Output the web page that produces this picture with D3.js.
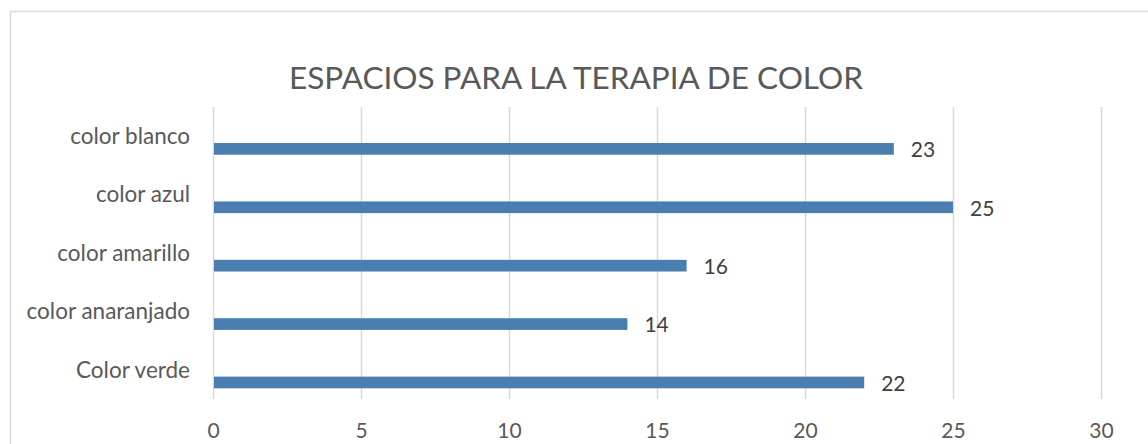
<!DOCTYPE html>
<html>
<head>
    <meta charset="utf-8">
    <script src="https://d3js.org/d3.v7.min.js"></script>
    <style>
        body { margin: 0; background: #fff; }
        svg text { font-family: Lato, "Open Sans", sans-serif; }
    </style>
</head>
<body>
<script>
    // data, top row first
    var categories = ["color blanco", "color azul", "color amarillo", "color anaranjado", "Color verde"];
    var counts = [23, 25, 16, 14, 22];
    var tickValues = [0, 5, 10, 15, 20, 25, 30];
    var chartTitle = "ESPACIOS PARA LA TERAPIA DE COLOR";

    var width = 1148, height = 444;
    var plotLeft = 213, plotRight = 1101, plotTop = 107, plotBottom = 399;

    var data = categories.map(function(c, i) { return {cat: c, val: counts[i]}; });

    var svg = d3.select("body").append("svg")
        .attr("width", width)
        .attr("height", height);

    // chart frame (runs off the right and bottom edges)
    svg.append("rect")
        .attr("x", 10.5)
        .attr("y", 11.5)
        .attr("width", width + 20)
        .attr("height", height + 20)
        .style("fill", "#fff")
        .style("stroke", "#d9d9d9")
        .style("stroke-width", 1.5);

    svg.append("text")
        .attr("x", 576)
        .attr("y", 89)
        .attr("text-anchor", "middle")
        .style("font-size", "31.5px")
        .style("fill", "#595959")
        .text(chartTitle);

    var x = d3.scaleLinear().domain([0, 30]).range([plotLeft, plotRight]);
    var y = d3.scaleBand().domain(categories).range([plotTop, plotBottom]);

    // vertical gridlines
    svg.append("g")
        .selectAll("line")
        .data(tickValues)
        .enter().append("line")
        .attr("x1", function(d) { return Math.round(x(d)) + 0.5; })
        .attr("x2", function(d) { return Math.round(x(d)) + 0.5; })
        .attr("y1", plotTop)
        .attr("y2", plotBottom)
        .style("stroke", "#d9d9d9")
        .style("stroke-width", 1.5);

    // x axis tick labels
    var xAxis = d3.axisBottom(x).tickValues(tickValues).tickSize(0).tickPadding(0);
    var gx = svg.append("g")
        .attr("transform", "translate(0," + plotBottom + ")")
        .call(xAxis);
    gx.select(".domain").remove();
    gx.selectAll("text")
        .attr("y", 39)
        .attr("dy", null)
        .style("font-family", "Lato, 'Open Sans', sans-serif")
        .style("font-size", "21px")
        .style("fill", "#595959");

    // category labels, centred on the band
    var yAxis = d3.axisLeft(y).tickSize(0).tickPadding(0);
    var gy = svg.append("g")
        .attr("transform", "translate(" + (plotLeft - 23) + ",0)")
        .call(yAxis);
    gy.select(".domain").remove();
    gy.selectAll("text")
        .attr("dy", "0.35em")
        .style("font-family", "Lato, 'Open Sans', sans-serif")
        .style("font-size", "22.5px")
        .style("fill", "#595959");

    // bars sit in the lower part of each band
    var bw = y.bandwidth();
    svg.append("g")
        .selectAll("rect")
        .data(data)
        .enter().append("rect")
        .attr("x", x(0) + 1)
        .attr("y", function(d) { return y(d.cat) + bw * 0.617; })
        .attr("width", function(d) { return x(d.val) - x(0) - 1; })
        .attr("height", bw * 0.2)
        .style("fill", "#4a7eb0");

    // value labels
    svg.append("g")
        .selectAll("text")
        .data(data)
        .enter().append("text")
        .attr("x", function(d) { return x(d.val) + 17; })
        .attr("y", function(d) { return y(d.cat) + bw * 0.717 + 1; })
        .attr("dy", "0.35em")
        .style("font-size", "21px")
        .style("fill", "#404040")
        .text(function(d) { return d.val; });
</script>
</body>
</html>
